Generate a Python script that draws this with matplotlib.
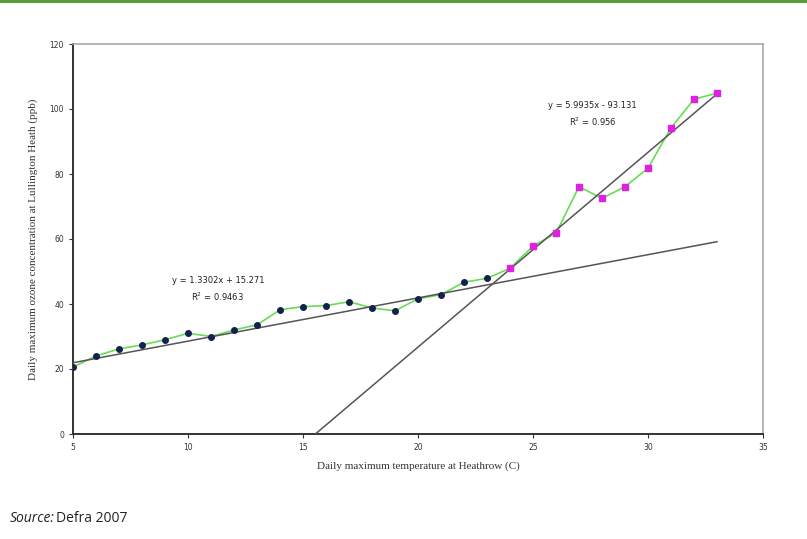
import matplotlib
matplotlib.use("Agg")
import matplotlib.pyplot as plt
import numpy as np

# Data
temp_low = [5, 6, 7, 8, 9, 10, 11, 12, 13, 14, 15, 16, 17, 18, 19, 20, 21, 22, 23]
ozone_low = [20.6, 24.0, 26.2, 27.4, 29.0, 31.0, 30.0, 32.0, 33.6, 38.2, 39.2, 39.5, 40.7,
             38.8, 37.9, 41.6, 42.9, 46.7, 47.9]
temp_high = [24, 25, 26, 27, 28, 29, 30, 31, 32, 33]
ozone_high = [51.0, 57.8, 61.8, 76.1, 72.5, 76.1, 81.8, 94.2, 103.0, 104.9]
fit_low = (1.3302, 15.271)
fit_high = (5.9935, -93.131)
x_ticks = [5, 10, 15, 20, 25, 30, 35]
y_ticks = [0, 20, 40, 60, 80, 100, 120]

fig = plt.figure(figsize=(8.07, 5.39), dpi=100)
# top green rule
fig.add_artist(plt.Line2D([0, 1], [0.9975, 0.9975], color="#5a9a3c", lw=3,
                          transform=fig.transFigure))

ax = fig.add_axes([73/807, 1-434/539, (763-73)/807, (434-44)/539])

all_x = temp_low + temp_high
all_y = ozone_low + ozone_high
ax.plot(all_x, all_y, color="#66dd55", lw=1.2, zorder=2)
ax.plot(temp_low, ozone_low, "o", color="#14204e", ms=4, zorder=4)
ax.plot(temp_high, ozone_high, "s", color="#e020e0", ms=4, zorder=4)

# trendlines
xl = np.array([5, 33])
ax.plot(xl, fit_low[0]*xl + fit_low[1], color="#555555", lw=1.1, zorder=3)
x0 = -fit_high[1]/fit_high[0]
xh = np.array([x0, 33])
ax.plot(xh, fit_high[0]*xh + fit_high[1], color="#555555", lw=1.1, zorder=3)

ax.text(11.3, 44.5, "y = 1.3302x + 15.271\nR$^2$ = 0.9463", ha="center", va="center",
        fontsize=6, family="DejaVu Sans", color="#222222", linespacing=1.5)
ax.text(27.6, 98.3, "y = 5.9935x - 93.131\nR$^2$ = 0.956", ha="center", va="center",
        fontsize=6, family="DejaVu Sans", color="#222222", linespacing=1.5)

ax.set_xlim(5, 35)
ax.set_ylim(0, 120)
ax.set_xticks(x_ticks)
ax.set_yticks(y_ticks)
ax.tick_params(labelsize=5.5, length=3, width=0.8, colors="#333333", direction="out")
for s in ["left", "bottom"]:
    ax.spines[s].set_color("#333333")
    ax.spines[s].set_linewidth(1.4)
for s in ["top", "right"]:
    ax.spines[s].set_color("#aaaaaa")
    ax.spines[s].set_linewidth(1.2)

ax.set_xlabel("Daily maximum temperature at Heathrow (C)", family="Liberation Serif",
              fontsize=8, color="#333333", labelpad=7)
ax.set_ylabel("Daily maximum ozone concentration at Lullington Heath (ppb)",
              family="Liberation Serif", fontsize=8, color="#333333", labelpad=8)

fig.text(10/807, 1-518/539, "Source:", style="italic", family="Open Sans", fontsize=10,
         color="#222222", va="center")
fig.text(56/807, 1-518/539, "Defra 2007", family="Open Sans", fontsize=10,
         color="#222222", va="center")

fig.savefig("out.png", dpi=100)
